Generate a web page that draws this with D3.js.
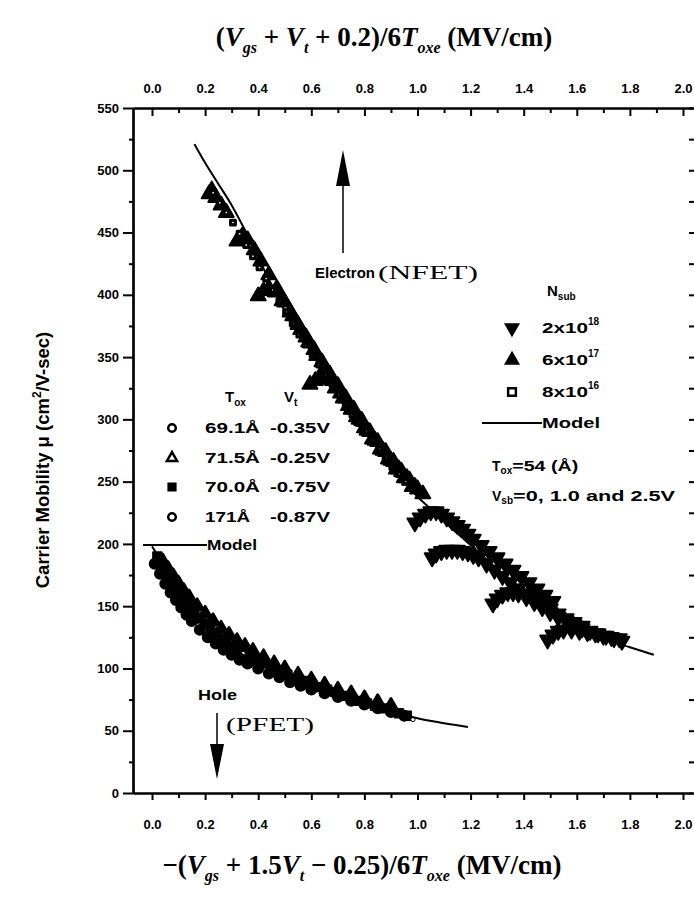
<!DOCTYPE html>
<html><head><meta charset="utf-8">
<script src="https://cdn.jsdelivr.net/npm/d3@7/dist/d3.min.js"></script>
<style>body{margin:0;background:#fff}svg{display:block}</style>
</head><body>
<svg id="c" width="694" height="901"></svg>
<script>
// ---------- data ----------
const xTickValues = [0.0,0.2,0.4,0.6,0.8,1.0,1.2,1.4,1.6,1.8,2.0];
const xMinorValues = [0.1,0.3,0.5,0.7,0.9,1.1,1.3,1.5,1.7,1.9];
const yTickValues = [0,50,100,150,200,250,300,350,400,450,500,550];
const yMinorValues = [25,75,125,175,225,275,325,375,425,475,525];

// Electron (NFET) model
const electronModel = [[0.16,521],[0.2,506],[0.25,489],[0.3,472],[0.35,452],[0.4,430],[0.45,408],[0.5,387],[0.55,370],[0.6,354],[0.65,338],[0.7,322],[0.75,306],[0.8,291],[0.85,277],[0.9,263],[0.95,250],[1.0,238],[1.05,228],[1.1,218],[1.2,199],[1.3,180],[1.4,163],[1.5,147],[1.6,134],[1.7,124],[1.8,117],[1.89,111]];
// N_sub = 8x10^16 (open squares)
const eSquare = [[0.23,482],[0.255,474],[0.28,466],[0.305,458],[0.33,449],[0.355,440],[0.38,431],[0.405,422],[0.43,413],[0.455,404],[0.48,395],[0.505,386],[0.53,377],[0.555,368],[0.58,360],[0.605,352],[0.63,344],[0.655,336],[0.68,328],[0.705,320],[0.73,312],[0.755,304],[0.78,297],[0.805,290],[0.83,283],[0.855,276],[0.88,269],[0.905,262],[0.93,256],[0.955,250]];
// N_sub = 6x10^17 (filled up triangles), Vsb = 0, 1.0, 2.5 V
const eUpV0 = [[0.215,481],[0.225,484],[0.24,478],[0.26,472],[0.28,466],[0.32,443],[0.34,447],[0.36,444],[0.385,436],[0.41,427],[0.44,416],[0.47,405],[0.50,394],[0.53,383],[0.56,372],[0.59,362],[0.62,351],[0.65,341],[0.68,331],[0.71,321],[0.74,311],[0.77,302],[0.80,293],[0.83,284],[0.86,276],[0.89,268],[0.92,260],[0.95,253],[0.98,246]];
const eUpV1 = [[0.40,399],[0.42,403],[0.44,405],[0.465,402],[0.49,395],[0.52,386],[0.55,376],[0.58,366],[0.61,356],[0.64,346],[0.67,336],[0.70,327],[0.73,317],[0.76,308],[0.79,299],[0.82,290],[0.85,282],[0.88,274],[0.91,266],[0.94,258],[0.97,251],[1.0,244]];
const eUpV25 = [[0.595,328],[0.615,331],[0.635,333],[0.66,332],[0.69,325],[0.72,317],[0.75,308],[0.78,300],[0.81,291],[0.84,283],[0.87,275],[0.90,267],[0.93,260],[0.96,253],[0.99,246],[1.02,240]];
// N_sub = 2x10^18 (filled down triangles)
const eDownV0 = [[0.99,217],[1.01,221],[1.03,224],[1.05,226],[1.07,226],[1.09,224],[1.11,221],[1.13,218],[1.15,215],[1.17,212],[1.19,208],[1.21,204],[1.24,199],[1.27,194],[1.30,189],[1.33,184],[1.36,179],[1.39,174],[1.42,169],[1.45,164],[1.48,159],[1.51,154]];
const eDownV1 = [[1.055,189],[1.07,192],[1.09,194],[1.11,195],[1.13,195],[1.15,195],[1.17,194],[1.19,193],[1.21,191],[1.23,189],[1.26,184],[1.29,179],[1.32,174],[1.35,169],[1.38,164],[1.41,160],[1.44,156],[1.47,152],[1.50,148],[1.53,144],[1.56,140],[1.59,137],[1.62,134]];
const eDownV25 = [[1.284,152],[1.30,156],[1.32,159],[1.34,161],[1.36,161],[1.38,160],[1.41,157],[1.44,153],[1.47,149],[1.50,145],[1.53,141],[1.56,138],[1.59,135],[1.62,132],[1.65,130],[1.68,128],[1.71,126],[1.74,124],[1.77,122]];
const eDownExtra = [[1.49,123],[1.51,127],[1.53,130],[1.55,131],[1.58,131],[1.61,130],[1.64,129],[1.67,128],[1.70,126],[1.73,125],[1.76,124]];

// Hole (PFET)
const holeModel = [[0.0,198],[0.03,188],[0.06,177],[0.1,164],[0.15,148],[0.2,135],[0.25,125],[0.3,117],[0.35,110],[0.4,104],[0.5,95],[0.6,87],[0.7,80],[0.8,73],[0.9,66],[1.0,60],[1.1,56],[1.19,53]];
const hole691 = [[0.01,184],[0.03,176],[0.05,168],[0.07,161],[0.09,155],[0.11,149],[0.13,143],[0.15,138],[0.18,131],[0.21,125],[0.24,120],[0.27,115],[0.30,111],[0.33,107],[0.36,104],[0.40,100],[0.44,96],[0.48,93],[0.52,89],[0.56,86],[0.60,83],[0.65,80],[0.70,77],[0.75,74],[0.80,71],[0.85,68],[0.90,65],[0.95,62]];
const hole715 = [[0.04,186],[0.06,180],[0.08,174],[0.10,168],[0.12,162],[0.14,157],[0.17,150],[0.20,144],[0.23,138],[0.26,132],[0.29,127],[0.32,122],[0.35,118],[0.38,114],[0.42,109],[0.46,104],[0.50,100],[0.55,95],[0.60,91],[0.65,87],[0.70,83],[0.75,80],[0.80,76],[0.85,73],[0.90,70]];
const hole700 = [[0.02,190],[0.03,185],[0.045,179],[0.06,174],[0.075,169],[0.09,164],[0.105,159],[0.12,155],[0.14,150],[0.16,145],[0.18,140],[0.2,136],[0.22,132],[0.24,128],[0.26,124],[0.28,121],[0.30,118],[0.33,114],[0.36,110],[0.39,107],[0.42,104],[0.45,101],[0.48,98],[0.51,95],[0.54,92],[0.57,90],[0.60,87],[0.63,85],[0.66,83],[0.69,81],[0.72,78],[0.75,76],[0.78,74],[0.81,72],[0.84,70],[0.87,68],[0.90,66],[0.93,64],[0.96,62]];
const hole171 = [[0.343,112],[0.983,59]];

const holeLegendTox = ["69.1Å","71.5Å","70.0Å","171Å"];
const holeLegendVt = ["-0.35V","-0.25V","-0.75V","-0.87V"];
const nsubLabels = [["2x10","18"],["6x10","17"],["8x10","16"]];

// ---------- drawing ----------
const svg = d3.select("#c");
const SANS = "'Liberation Sans', Arial, sans-serif";
const SERIF = "'Liberation Serif', 'Times New Roman', serif";

const x = d3.scaleLinear().domain([-0.0716, 2.0377]).range([133, 693]);
const y = d3.scaleLinear().domain([0, 550]).range([793, 108]);

function styleAxis(g){
  g.selectAll("path.domain").attr("stroke","#000").attr("stroke-width",2.2);
  g.selectAll(".tick line").attr("stroke","#000").attr("stroke-width",2);
  g.selectAll(".tick text").attr("font-family",SANS).attr("font-weight","bold").attr("font-size",13).attr("fill","#000");
}
// bottom
svg.append("g").attr("transform","translate(0,793)")
  .call(d3.axisBottom(x).tickValues(xTickValues).tickFormat(d3.format(".1f")).tickSize(7).tickSizeOuter(0).tickPadding(20))
  .call(styleAxis);
svg.append("g").attr("transform","translate(0,793)")
  .call(d3.axisBottom(x).tickValues(xMinorValues).tickFormat("").tickSize(5).tickSizeOuter(0))
  .call(styleAxis);
// top
svg.append("g").attr("transform","translate(0,108)")
  .call(d3.axisTop(x).tickValues(xTickValues).tickFormat(d3.format(".1f")).tickSize(-8).tickSizeOuter(0).tickPadding(15))
  .call(styleAxis);
svg.append("g").attr("transform","translate(0,108)")
  .call(d3.axisTop(x).tickValues(xMinorValues).tickFormat("").tickSize(-5).tickSizeOuter(0))
  .call(styleAxis);
// left
svg.append("g").attr("transform","translate(133,0)")
  .call(d3.axisLeft(y).tickValues(yTickValues).tickSize(10).tickSizeOuter(0).tickPadding(4))
  .call(styleAxis);
svg.append("g").attr("transform","translate(133,0)")
  .call(d3.axisLeft(y).tickValues(yMinorValues).tickFormat("").tickSize(4).tickSizeOuter(0))
  .call(styleAxis);
// right (ticks only)
const gr = svg.append("g").attr("transform","translate(694,0)")
  .call(d3.axisRight(y).tickValues(yTickValues.concat(yMinorValues)).tickFormat("").tickSize(-5).tickSizeOuter(0))
  .call(styleAxis);
gr.select("path.domain").remove();

const line = d3.line().x(d=>x(d[0])).y(d=>y(d[1])).curve(d3.curveMonotoneX);

function drawSym(data, type, size, fill, stroke, sw, rot){
  const sym = d3.symbol().type(type).size(size);
  svg.append("g").selectAll("path").data(data).join("path")
    .attr("d", sym)
    .attr("transform", d=>`translate(${x(d[0])},${y(d[1])})${rot?" rotate(180)":""}`)
    .attr("fill", fill).attr("stroke", stroke).attr("stroke-width", sw).attr("stroke-linejoin","round");
}

// electron markers
[eUpV0,eUpV1,eUpV25].forEach(s=>drawSym(s,d3.symbolTriangle,95,"#000","#000",2));
[eDownV0,eDownV1,eDownV25,eDownExtra].forEach(s=>drawSym(s,d3.symbolTriangle,95,"#000","#000",2,true));
drawSym(eSquare,d3.symbolSquare,22,"#fff","#000",3.2);
svg.append("path").datum(electronModel).attr("d",line).attr("fill","none").attr("stroke","#000").attr("stroke-width",2);

// hole markers
drawSym(hole691,d3.symbolCircle,70,"#000","#000",2.5);
drawSym(hole715,d3.symbolTriangle,75,"#000","#000",2.5);
drawSym(hole700,d3.symbolSquare,70,"#000","#000",2);
drawSym(hole171,d3.symbolCircle,14,"#fff","#000",1);
svg.append("path").datum(holeModel).attr("d",line).attr("fill","none").attr("stroke","#000").attr("stroke-width",2);

// ---------- text helpers ----------
function txt(xp, yp, size, family, weight, anchor){
  return svg.append("text").attr("x",xp).attr("y",yp).attr("font-size",size)
    .attr("font-family",family).attr("font-weight",weight||"bold").attr("text-anchor",anchor||"start").attr("fill","#000");
}
function fit(sel, w){ return sel.attr("textLength",w).attr("lengthAdjust","spacingAndGlyphs"); }

// top title
const tt = txt(384, 46, 27, SERIF, "bold", "middle");
tt.append("tspan").text("(");
tt.append("tspan").attr("font-style","italic").text("V");
tt.append("tspan").attr("font-style","italic").attr("font-size",16).attr("dy",7).text("gs");
tt.append("tspan").attr("dy",-7).text(" + ");
tt.append("tspan").attr("font-style","italic").text("V");
tt.append("tspan").attr("font-style","italic").attr("font-size",16).attr("dy",7).text("t");
tt.append("tspan").attr("dy",-7).text(" + 0.2)/6");
tt.append("tspan").attr("font-style","italic").text("T");
tt.append("tspan").attr("font-style","italic").attr("font-size",16).attr("dy",7).text("oxe");
tt.append("tspan").attr("dy",-7).text("  (MV/cm)");

// bottom title
const bt = txt(362, 874, 27, SERIF, "bold", "middle");
bt.append("tspan").text("−(");
bt.append("tspan").attr("font-style","italic").text("V");
bt.append("tspan").attr("font-style","italic").attr("font-size",16).attr("dy",7).text("gs");
bt.append("tspan").attr("dy",-7).text(" + 1.5");
bt.append("tspan").attr("font-style","italic").text("V");
bt.append("tspan").attr("font-style","italic").attr("font-size",16).attr("dy",7).text("t");
bt.append("tspan").attr("dy",-7).text(" − 0.25)/6");
bt.append("tspan").attr("font-style","italic").text("T");
bt.append("tspan").attr("font-style","italic").attr("font-size",16).attr("dy",7).text("oxe");
bt.append("tspan").attr("dy",-7).text("  (MV/cm)");

// y title
const yt = svg.append("text").attr("transform","translate(49,460) rotate(-90)")
  .attr("text-anchor","middle").attr("font-family",SANS).attr("font-weight","bold").attr("font-size",18.5).attr("fill","#000");
yt.append("tspan").text("Carrier Mobility μ  (cm");
yt.append("tspan").attr("font-size",12).attr("dy",-8).text("2");
yt.append("tspan").attr("dy",8).text("/V-sec)");

// electron annotation
svg.append("line").attr("x1",343).attr("x2",343).attr("y1",253).attr("y2",178).attr("stroke","#000").attr("stroke-width",1.5);
svg.append("path").attr("d","M343,150 L336,186 L350,186 Z").attr("fill","#000");
fit(txt(315, 278, 15, SANS, "bold"), 60).text("Electron");
fit(txt(378, 279, 19, SERIF, "normal"), 100).text("(NFET)");

// hole annotation
fit(txt(198, 700, 14, SANS, "bold"), 39).text("Hole");
svg.append("line").attr("x1",217).attr("x2",217).attr("y1",713).attr("y2",750).attr("stroke","#000").attr("stroke-width",1.5);
svg.append("path").attr("d","M217,779 L210,744 L224,744 Z").attr("fill","#000");
fit(txt(226, 731, 19, SERIF, "normal"), 88).text("(PFET)");

// left legend (hole)
const lh = txt(225, 402, 15, SANS, "bold");
lh.append("tspan").text("T");
lh.append("tspan").attr("font-size",10).attr("dy",4).text("ox");
const lh2 = txt(284, 402, 15, SANS, "bold");
lh2.append("tspan").text("V");
lh2.append("tspan").attr("font-size",10).attr("dy",4).text("t");
const legRowsY = [428,458,487,517];
const legSyms = [[d3.symbolCircle,"none"],[d3.symbolTriangle,"none"],[d3.symbolSquare,"#000"],[d3.symbolCircle,"none"]];
legRowsY.forEach((ly,i)=>{
  svg.append("path").attr("d",d3.symbol().type(legSyms[i][0]).size(45)())
    .attr("transform",`translate(172,${ly})`).attr("fill",legSyms[i][1]).attr("stroke","#000").attr("stroke-width",2.5);
  fit(txt(205, ly+5, 14, SANS, "bold"), holeLegendTox[i].length>4?55:45).text(holeLegendTox[i]);
  fit(txt(270, ly+5, 14, SANS, "bold"), 60).text(holeLegendVt[i]);
});
svg.append("line").attr("x1",143).attr("x2",207).attr("y1",545).attr("y2",545).attr("stroke","#000").attr("stroke-width",1.8);
fit(txt(207, 550, 14, SANS, "bold"), 50).text("Model");

// right legend (electron)
const nh = txt(547, 296, 15, SANS, "bold");
nh.append("tspan").text("N");
nh.append("tspan").attr("font-size",10).attr("dy",4).text("sub");
const rRowsY = [328,360,392];
const rSyms = [[d3.symbolTriangle,"#000",true],[d3.symbolTriangle,"#000",false],[d3.symbolSquare,"#fff",false]];
rRowsY.forEach((ly,i)=>{
  svg.append("path").attr("d",d3.symbol().type(rSyms[i][0]).size(60)())
    .attr("transform",`translate(512,${ly})${rSyms[i][2]?" rotate(180)":""}`)
    .attr("fill",rSyms[i][1]).attr("stroke","#000").attr("stroke-width",2.5);
  const t = txt(542, ly+5, 14, SANS, "bold");
  t.append("tspan").attr("textLength",46).attr("lengthAdjust","spacingAndGlyphs").text(nsubLabels[i][0]);
  t.append("tspan").attr("font-size",10).attr("dy",-8).text(nsubLabels[i][1]);
});
svg.append("line").attr("x1",482).attr("x2",542).attr("y1",423).attr("y2",423).attr("stroke","#000").attr("stroke-width",1.8);
fit(txt(542, 428, 14, SANS, "bold"), 58).text("Model");
const tox = txt(492, 471, 14, SANS, "bold");
tox.append("tspan").text("T");
tox.append("tspan").attr("font-size",10).attr("dy",3).text("ox");
tox.append("tspan").attr("dy",-3).attr("textLength",66).attr("lengthAdjust","spacingAndGlyphs").text("=54 (Å)");
const vsb = txt(492, 501, 14, SANS, "bold");
vsb.append("tspan").text("V");
vsb.append("tspan").attr("font-size",10).attr("dy",3).text("sb");
vsb.append("tspan").attr("dy",-3).attr("textLength",162).attr("lengthAdjust","spacingAndGlyphs").text("=0, 1.0 and 2.5V");
</script>
</body></html>
